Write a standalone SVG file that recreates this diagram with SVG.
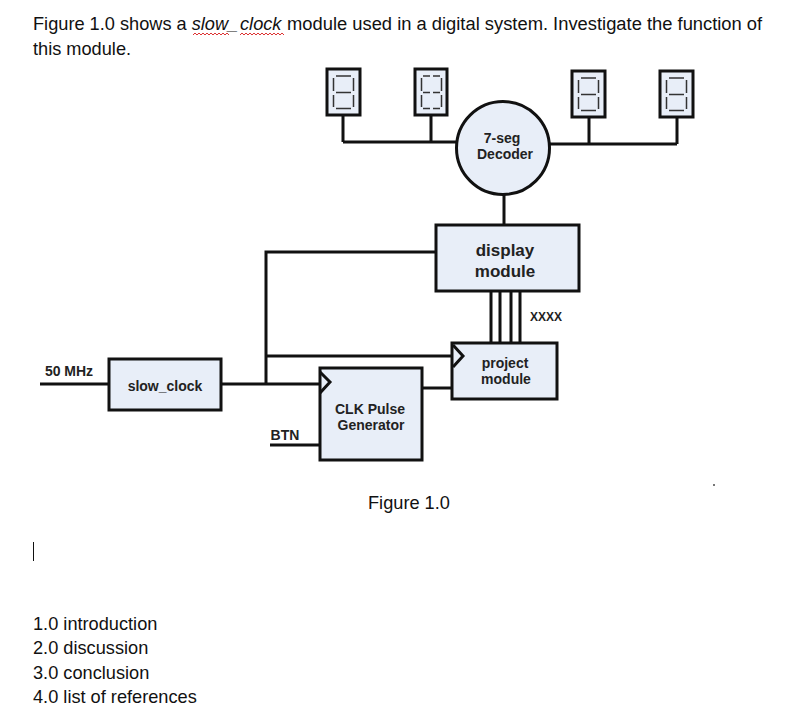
<svg xmlns="http://www.w3.org/2000/svg" width="799" height="724" viewBox="0 0 799 724">
<defs>
<style>
text{font-family:"Liberation Sans",Arial,sans-serif;fill:#111}
.doc{font-size:18.2px}
.b{font-size:14px;font-weight:bold;text-anchor:middle;fill:#222}
.box{fill:#e8eef8;stroke:#111;stroke-width:3}
.w{fill:none;stroke:#111;stroke-width:3}
.seg{fill:none;stroke:#333;stroke-width:1.5}
.ck{fill:none;stroke:#111;stroke-width:3}
</style>
<g id="digits">
<path class="seg" d="M9 7H24M6.500 9V22M26.500 9V22M9 23.500H24M6.500 26V38M26.500 26V38M9 39.500H24"/>
</g>
<g id="digits-split">
<path class="seg" d="M8 7H15M18 7H25M6.500 9V22M26.500 9V22M8 23.500H15M18 23.500H25M6.500 26V38M26.500 26V38M8 39.500H15M18 39.500H25"/>
</g>
</defs>
<rect width="799" height="724" fill="#fff"/>
<g id="doc-top">
<text class="doc" x="33" y="30">Figure 1.0 shows a <tspan font-style="italic">slow_</tspan><tspan x="240" font-style="italic">clock</tspan><tspan x="287" font-size="18.35">module used in a digital system. Investigate the function of</tspan></text>
<text class="doc" x="33" y="55">this module.</text>
<path d="M193 35l2 -2 2 2 2 -2 2 2 2 -2 2 2 2 -2 2 2 2 -2 2 2 2 -2 2 2 2 -2 2 2 2 -2 2 2 2 -2 2 2M240 35l2 -2 2 2 2 -2 2 2 2 -2 2 2 2 -2 2 2 2 -2 2 2 2 -2 2 2 2 -2 2 2 2 -2 2 2 2 -2 2 2 2 -2 2 2 2 -2 2 2" fill="none" stroke="#d33" stroke-width="1"/>
</g>
<g id="connectors">
<path class="w" d="M343 115V142M431 115V142M343 142H457"/>
<path class="w" d="M589 117V144M677 117V144M549 144H677"/>
<path class="w" d="M504 195V225"/>
<path class="w" d="M436 252H266V384M266 356H452"/>
<path class="w" d="M40 384H109M222 384H319"/>
<path class="w" d="M423 388H452"/>
<path class="w" d="M270 445H319"/>
<path class="w" d="M491 291V343M500 291V343M511 291V343M520 291V343"/>
</g>
<g id="display-1"><rect class="box" x="327" y="69" width="33" height="46"/><use href="#digits" x="327" y="69"/></g>
<g id="display-2"><rect class="box" x="415" y="69" width="32" height="46"/><use href="#digits-split" x="415" y="69"/></g>
<g id="display-3"><rect class="box" x="572" y="71" width="33" height="46"/><use href="#digits" x="572" y="71"/></g>
<g id="display-4"><rect class="box" x="660" y="71" width="33" height="46"/><use href="#digits" x="660" y="71"/></g>
<g id="decoder">
<circle class="box" cx="503" cy="148" r="46.5"/>
<text class="b" x="502" y="143">7-seg</text>
<text class="b" x="505" y="159">Decoder</text>
</g>
<g id="display-module">
<rect class="box" x="436" y="225" width="143" height="66"/>
<text class="b" x="505" y="256" style="font-size:17px">display</text>
<text class="b" x="505" y="277" style="font-size:17px">module</text>
</g>
<g id="bus-label"><text class="b" x="546" y="321" style="font-size:12px">XXXX</text></g>
<g id="project-module">
<rect class="box" x="452" y="343" width="105" height="56"/>
<path class="ck" d="M453 345L463 356L453 367"/>
<text class="b" x="505" y="368">project</text>
<text class="b" x="506" y="384">module</text>
</g>
<g id="clk-pulse">
<rect class="box" x="320" y="368" width="102" height="92"/>
<path class="ck" d="M320 372L330 382L320 393"/>
<text class="b" x="370" y="414">CLK Pulse</text>
<text class="b" x="371" y="430">Generator</text>
</g>
<g id="slow-clock">
<rect class="box" x="109" y="359" width="112" height="51"/>
<text class="b" x="165" y="391">slow_clock</text>
</g>
<g id="labels">
<text class="b" x="69" y="376">50 MHz</text>
<text class="b" x="285" y="440">BTN</text>
</g>
<g id="doc-bottom">
<text class="doc" x="368" y="509">Figure 1.0</text>
<path d="M33.500 542V561" stroke="#111" stroke-width="1"/>
<rect x="713" y="484" width="2" height="2" fill="#777"/>
<text class="doc" x="33" y="630">1.0 introduction</text>
<text class="doc" x="33" y="654">2.0 discussion</text>
<text class="doc" x="33" y="679">3.0 conclusion</text>
<text class="doc" x="33" y="703">4.0 list of references</text>
</g>
</svg>
